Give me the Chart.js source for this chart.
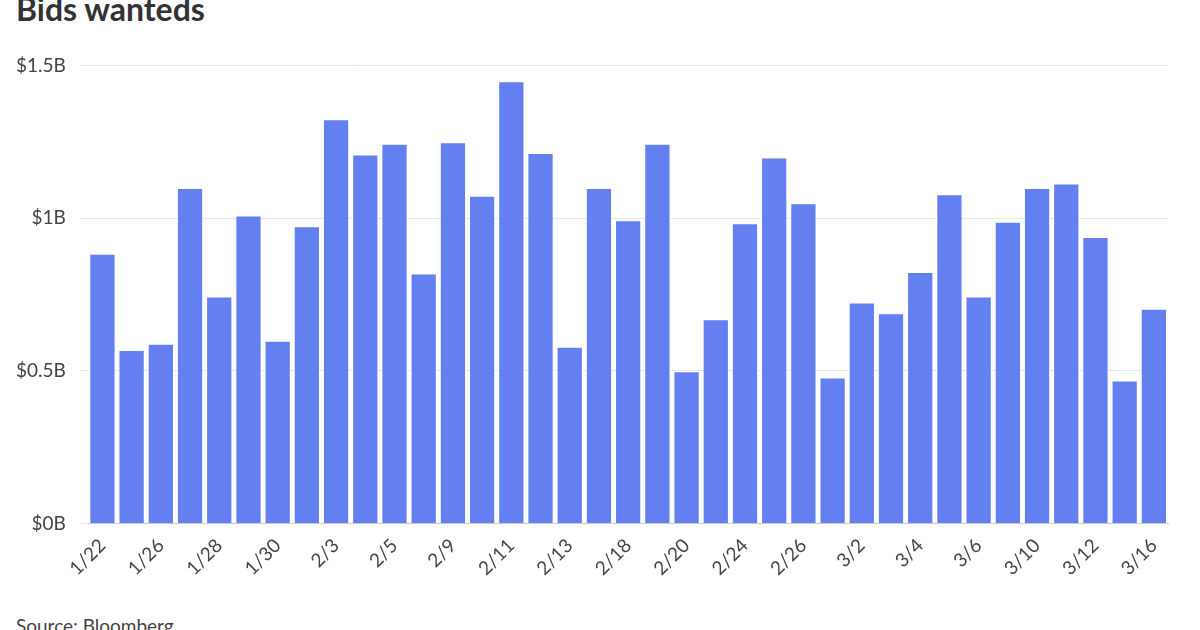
<!DOCTYPE html>
<html>
<head>
<script src="https://cdn.jsdelivr.net/npm/chart.js"></script>
<style>
  html, body { margin: 0; padding: 0; background: #fff; font-family: Lato, sans-serif; }
  #wrap { position: relative; width: 1200px; height: 630px; overflow: hidden; }
  #title { position: absolute; left: 16px; top: -11px; font-size: 32px; font-weight: bold; color: #333; }
  #source { position: absolute; left: 16px; top: 614px; font-size: 19px; color: #444; }
  #box { position: absolute; left: 0; top: 40px; width: 1173px; height: 543px; }
</style>
</head>
<body>
<div id="wrap">
  <div id="title">Bids wanteds</div>
  <div id="box"><canvas id="chart"></canvas></div>
  <div id="source">Source: Bloomberg</div>
</div>
<script>
const dates = ["1/22","1/25","1/26","1/27","1/28","1/29","1/30","2/2","2/3","2/4","2/5","2/8","2/9","2/10","2/11","2/12","2/13","2/17","2/18","2/19","2/20","2/23","2/24","2/25","2/26","3/1","3/2","3/3","3/4","3/5","3/6","3/9","3/10","3/11","3/12","3/15","3/16"];
const bidsWanted = [0.88,0.565,0.585,1.095,0.74,1.005,0.595,0.97,1.32,1.205,1.24,0.815,1.245,1.07,1.445,1.21,0.575,1.095,0.99,1.24,0.495,0.665,0.98,1.195,1.045,0.475,0.72,0.685,0.82,1.075,0.74,0.985,1.095,1.11,0.935,0.465,0.70];
const yTicks = [0, 0.5, 1, 1.5];
const yTickLabels = ["$0B", "$0.5B", "$1B", "$1.5B"];

new Chart(document.getElementById('chart'), {
  type: 'bar',
  data: {
    labels: dates,
    datasets: [{ data: bidsWanted, backgroundColor: '#637ff0', categoryPercentage: 1, barPercentage: 0.83 }]
  },
  options: {
    responsive: true,
    maintainAspectRatio: false,
    animation: false,
    layout: { padding: { left: 2, top: 10 } },
    plugins: { legend: { display: false }, tooltip: { enabled: false } },
    scales: {
      x: {
        grid: { display: false },
        border: { color: '#ccc' },
        ticks: {
          autoSkip: false, maxRotation: 45, minRotation: 45,
          font: { family: 'Lato', size: 19 }, color: '#444',
          callback: (v, i) => i % 2 === 0 ? dates[i] : ''
        }
      },
      y: {
        min: 0, max: 1.5,
        afterBuildTicks: axis => { axis.ticks = yTicks.map(v => ({ value: v })); },
        grid: { color: '#e8e8e8' },
        border: { display: false },
        ticks: {
          font: { family: 'Lato', size: 19 }, color: '#444', padding: 14,
          callback: v => yTickLabels[yTicks.indexOf(v)]
        }
      }
    }
  }
});
</script>
</body>
</html>
